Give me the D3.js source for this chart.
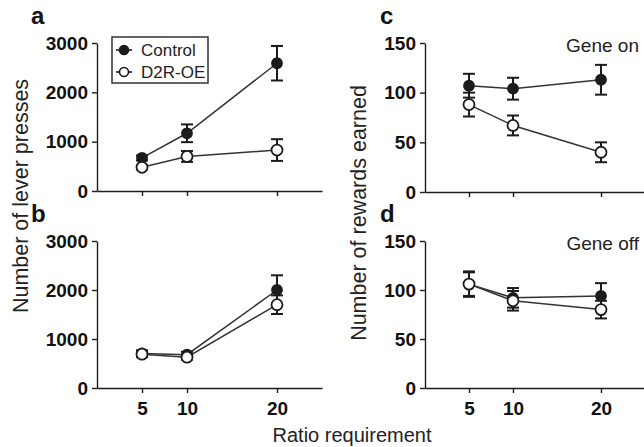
<!DOCTYPE html>
<html>
<head>
<meta charset="utf-8">
<script src="https://cdn.jsdelivr.net/npm/d3@7"></script>
<style>
  body { margin: 0; background: #fff; }
  svg { font-family: "Liberation Sans", Arial, sans-serif; }
</style>
</head>
<body>
<svg id="chart" width="644" height="447"></svg>
<script>
// ratio requirements on x
const ratios = [5, 10, 20];

// a: lever presses, gene on
const aControl = [670, 1170, 2590];
const aControlErr = [50, 180, 350];
const aD2R = [480, 700, 830];
const aD2RErr = [40, 110, 220];

// b: lever presses, gene off
const bControl = [705, 680, 2000];
const bControlErr = [65, 60, 300];
const bD2R = [690, 630, 1700];
const bD2RErr = [60, 50, 190];

// c: rewards earned, gene on
const cControl = [107, 104, 113];
const cControlErr = [12, 11, 15];
const cD2R = [88, 67, 40];
const cD2RErr = [12, 10, 10];

// d: rewards earned, gene off
const dControl = [106, 92, 94];
const dControlErr = [13, 10, 13];
const dD2R = [106, 89, 80];
const dD2RErr = [12, 10, 9];

const pressTicks = [0, 1000, 2000, 3000];
const rewardTicks = [0, 50, 100, 150];

const ink = "#1c1c1c";
const svg = d3.select("#chart");

const panels = [
  {letter: "a", x0: 97, x1: 322, top: 43, bottom: 191, max: 3000, ticks: pressTicks,
   ctrl: aControl, ctrlErr: aControlErr, oe: aD2R, oeErr: aD2RErr, xLabels: false},
  {letter: "b", x0: 97, x1: 322, top: 241, bottom: 388, max: 3000, ticks: pressTicks,
   ctrl: bControl, ctrlErr: bControlErr, oe: bD2R, oeErr: bD2RErr, xLabels: true},
  {letter: "c", x0: 425, x1: 645, top: 43, bottom: 192, max: 150, ticks: rewardTicks,
   ctrl: cControl, ctrlErr: cControlErr, oe: cD2R, oeErr: cD2RErr, xLabels: false, note: "Gene on"},
  {letter: "d", x0: 425, x1: 645, top: 241, bottom: 388, max: 150, ticks: rewardTicks,
   ctrl: dControl, ctrlErr: dControlErr, oe: dD2R, oeErr: dD2RErr, xLabels: true, note: "Gene off"}
];

panels.forEach(function(p) {
  const x = d3.scaleLinear().domain([0, 25]).range([p.x0, p.x1]);
  const y = d3.scaleLinear().domain([0, p.max]).range([p.bottom, p.top]);
  const g = svg.append("g");

  // y axis
  const yAxis = g.append("g")
    .attr("transform", `translate(${p.x0},0)`)
    .call(d3.axisLeft(y).tickValues(p.ticks).tickSize(5).tickSizeOuter(0).tickPadding(4)
      .tickFormat(d3.format("d")));
  yAxis.select(".domain").attr("stroke", ink).attr("stroke-width", 1.4);
  yAxis.selectAll(".tick line").attr("stroke", ink).attr("stroke-width", 1.4);
  yAxis.selectAll(".tick text")
    .attr("font-size", 19).attr("font-weight", "bold").attr("fill", "#111")
    .attr("font-family", "Liberation Sans, Arial, sans-serif");

  // x axis
  const xAxis = g.append("g")
    .attr("transform", `translate(0,${p.bottom})`)
    .call(d3.axisBottom(x).tickValues(ratios).tickSize(5).tickSizeOuter(0).tickPadding(9)
      .tickFormat(p.xLabels ? d3.format("d") : () => ""));
  xAxis.select(".domain").attr("stroke", ink).attr("stroke-width", 1.4);
  xAxis.selectAll(".tick line").attr("stroke", ink).attr("stroke-width", 1.4);
  xAxis.selectAll(".tick text")
    .attr("font-size", 19).attr("font-weight", "bold").attr("fill", "#111")
    .attr("font-family", "Liberation Sans, Arial, sans-serif");

  // panel letter
  svg.append("text")
    .attr("x", p.x0 - 66 + (p.letter === "c" || p.letter === "d" ? 21 : 0))
    .attr("y", p.top - 19)
    .attr("font-size", 24).attr("font-weight", "bold").attr("fill", "#111")
    .text(p.letter);

  const series = [
    {vals: p.ctrl, err: p.ctrlErr, fill: ink},
    {vals: p.oe, err: p.oeErr, fill: "#fff"}
  ];

  const line = d3.line().x((d, i) => x(ratios[i])).y(d => y(d));

  series.forEach(function(s) {
    g.append("path")
      .datum(s.vals)
      .attr("d", line)
      .attr("fill", "none")
      .attr("stroke", "#333")
      .attr("stroke-width", 1.5);
  });

  series.forEach(function(s) {
    const eb = g.append("g");
    s.vals.forEach(function(v, i) {
      const cx = x(ratios[i]);
      const lo = y(v - s.err[i]), hi = y(v + s.err[i]);
      eb.append("line").attr("x1", cx).attr("x2", cx).attr("y1", lo).attr("y2", hi)
        .attr("stroke", ink).attr("stroke-width", 2);
      [lo, hi].forEach(function(yy) {
        eb.append("line").attr("x1", cx - 6).attr("x2", cx + 6).attr("y1", yy).attr("y2", yy)
          .attr("stroke", ink).attr("stroke-width", 2);
      });
    });
    g.selectAll(null)
      .data(s.vals)
      .enter().append("circle")
      .attr("cx", (d, i) => x(ratios[i]))
      .attr("cy", d => y(d))
      .attr("r", s.fill === "#fff" ? 5.5 : 5)
      .attr("fill", s.fill)
      .attr("stroke", ink)
      .attr("stroke-width", 1.8);
  });

  if (p.note) {
    svg.append("text")
      .attr("x", 639)
      .attr("y", p.top + 9)
      .attr("text-anchor", "end")
      .attr("font-size", 19).attr("fill", "#222")
      .text(p.note);
  }
});

// legend in panel a
const legend = svg.append("g");
legend.append("rect")
  .attr("x", 112).attr("y", 37).attr("width", 96).attr("height", 46)
  .attr("fill", "#fff").attr("stroke", "#333").attr("stroke-width", 1.5);
const legendItems = [
  {name: "Control", fill: ink, yy: 50},
  {name: "D2R-OE", fill: "#fff", yy: 72}
];
legendItems.forEach(function(it) {
  legend.append("line").attr("x1", 116).attr("x2", 132).attr("y1", it.yy).attr("y2", it.yy)
    .attr("stroke", ink).attr("stroke-width", 1.6);
  legend.append("circle").attr("cx", 124).attr("cy", it.yy).attr("r", 4.5)
    .attr("fill", it.fill).attr("stroke", ink).attr("stroke-width", 1.6);
  legend.append("text").attr("x", 141).attr("y", it.yy + 6)
    .attr("font-size", 17).attr("fill", "#222").text(it.name);
});

// axis titles
svg.append("text")
  .attr("transform", "translate(28,196) rotate(-90)")
  .attr("text-anchor", "middle")
  .attr("font-size", 21.5).attr("fill", "#222")
  .text("Number of lever presses");

svg.append("text")
  .attr("transform", "translate(366,213) rotate(-90)")
  .attr("text-anchor", "middle")
  .attr("font-size", 21.5).attr("fill", "#222")
  .text("Number of rewards earned");

svg.append("text")
  .attr("x", 352).attr("y", 442)
  .attr("text-anchor", "middle")
  .attr("font-size", 20).attr("fill", "#222")
  .text("Ratio requirement");
</script>
</body>
</html>
